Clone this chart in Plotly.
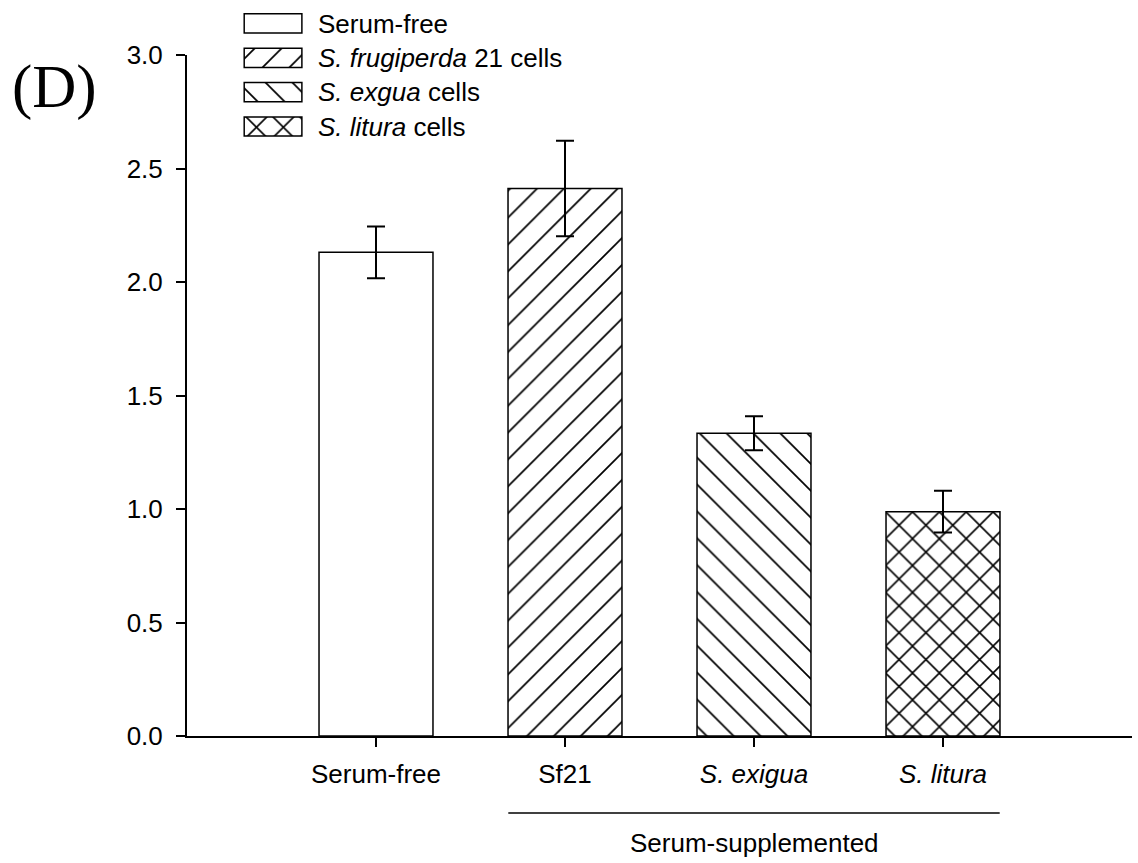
import plotly.graph_objects as go

# ---- data ----
categories = ["Serum-free", "Sf21", "S. exigua", "S. litura"]
tick_labels = ["Serum-free", "Sf21", "<i>S. exigua</i>", "<i>S. litura</i>"]
values = [2.131, 2.412, 1.334, 0.988]
errors = [0.114, 0.210, 0.075, 0.092]
legend_labels = ["Serum-free", "<i>S. frugiperda</i> 21 cells",
                 "<i>S. exgua</i> cells", "<i>S. litura</i> cells"]
y_ticks = [0.0, 0.5, 1.0, 1.5, 2.0, 2.5, 3.0]

# ---- styles ----
patterns = ["", "/", "\\", "x"]
solidities = [0.09, 0.09, 0.09, 0.16]
FONT = "Liberation Sans, Arial, sans-serif"
FS = 26
pattern_style = dict(shape=patterns, size=19, solidity=solidities,
                     fgcolor="black", bgcolor="white", fgopacity=1)

fig = go.Figure()

fig.add_trace(go.Bar(
    x=categories, y=values, width=0.603,
    marker=dict(color="white", line=dict(color="black", width=1.5),
                pattern=pattern_style),
    error_y=dict(type="data", array=errors, visible=True,
                 color="black", thickness=2, width=9),
    showlegend=False, xaxis="x", yaxis="y",
))

# custom legend drawn as a small bar subplot
fig.add_trace(go.Bar(
    y=legend_labels, x=[1] * len(legend_labels), orientation="h", width=0.56,
    marker=dict(color="white", line=dict(color="black", width=1.5),
                pattern=pattern_style),
    showlegend=False, xaxis="x2", yaxis="y2", hoverinfo="skip",
))

fig.update_layout(
    width=1138, height=863,
    margin=dict(l=187, r=6, t=5, b=127, autoexpand=False),
    paper_bgcolor="white", plot_bgcolor="rgba(0,0,0,0)",
    font=dict(family=FONT, size=FS, color="black"),
    showlegend=False,
    xaxis=dict(
        domain=[0, 1], range=[-1, 4], type="category", automargin=False,
        tickvals=categories, ticktext=tick_labels,
        showline=True, linecolor="black", linewidth=2,
        ticks="outside", ticklen=9, tickwidth=1.5, tickcolor="black",
        showgrid=False, zeroline=False, ticklabelstandoff=5,
    ),
    yaxis=dict(
        domain=[0, 0.9316], range=[0, 3], automargin=False,
        tickvals=y_ticks, tickformat=".1f",
        showline=True, linecolor="black", linewidth=2,
        ticks="outside", ticklen=9, tickwidth=1.5, tickcolor="black",
        showgrid=False, zeroline=False, ticklabelstandoff=8,
    ),
    xaxis2=dict(
        domain=[0.0593, 0.1228], range=[-0.02, 1.02], anchor="y2",
        visible=False, fixedrange=True, automargin=False,
    ),
    yaxis2=dict(
        domain=[0.8103, 0.9982], anchor="x2", side="right", automargin=False,
        type="category", categoryorder="array", categoryarray=legend_labels,
        range=[3.5, -0.5],
        showline=False, ticks="", showgrid=False, zeroline=False,
        ticklabelstandoff=14, tickfont=dict(family=FONT, size=FS),
    ),
    shapes=[dict(type="line", xref="x", yref="paper",
                 x0=0.7, x1=3.3, y0=-0.1053, y1=-0.1053,
                 line=dict(color="black", width=1.5))],
    annotations=[
        dict(text="Serum-supplemented", xref="x", yref="paper", x=2.0, y=-0.1464,
             showarrow=False, xanchor="center", yanchor="middle",
             font=dict(family=FONT, size=FS)),
        dict(text="(D)", xref="paper", yref="paper", x=-0.1397, y=0.888,
             showarrow=False, xanchor="center", yanchor="middle",
             font=dict(family="Liberation Serif, Times New Roman, serif", size=61)),
    ],
    bargap=0.4,
)

fig.write_html("out.html", config={"displayModeBar": False},
               post_script="document.body.style.margin='0';document.body.style.overflow='hidden';")
